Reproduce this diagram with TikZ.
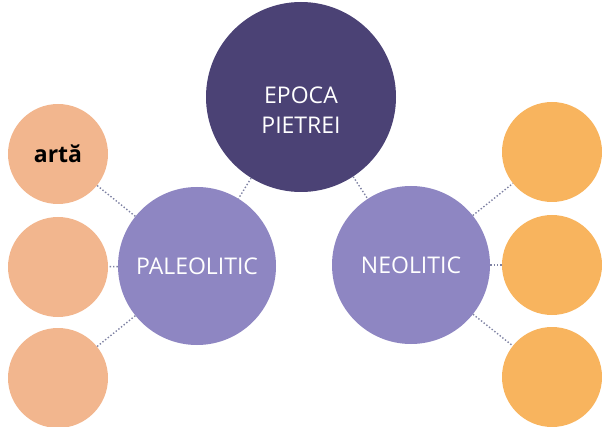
\documentclass[tikz,border=0pt]{standalone}
\usepackage{fontspec}
\setmainfont{Open Sans}
\usetikzlibrary{positioning}

\definecolor{darkviolet}{HTML}{4B4275}
\definecolor{lavender}{HTML}{8E86C2}
\definecolor{peach}{HTML}{F2B68E}
\definecolor{amber}{HTML}{F8B45E}
\definecolor{dotgray}{HTML}{7F82A3}

\begin{document}
\begin{tikzpicture}[
    x=1pt, y=1pt,
    every node/.style={font=\fontsize{23}{32}\selectfont},
    big/.style={circle, fill=darkviolet, text=white, minimum size=190pt,
                inner sep=0pt},
    mid/.style={circle, fill=lavender, text=white, minimum size=158pt,
                inner sep=0pt},
    lf/.style={circle, fill=peach, minimum size=100pt, inner sep=0pt},
    rt/.style={circle, fill=amber, minimum size=100pt, inner sep=0pt},
    e/.style={dotted, line width=1.4pt, dotgray},
  ]
  \useasboundingbox (0,0) rectangle (602,426);
  \node[big] (epoca) at (301, 329)
    {\raisebox{-21pt}[0pt][0pt]{\begin{tabular}{@{}c@{}}EPOCA\\[-2pt]PIETREI\end{tabular}}};
  \node[mid] (paleo) at (197, 160) {PALEOLITIC};
  \node[mid] (neo) at (411, 161) {NEOLITIC};
  \node[lf] (l1) at (58, 272) {\textbf{artă}};
  \node[lf] (l2) at (58, 159) {};
  \node[lf] (l3) at (58, 48) {};
  \node[rt] (r1) at (552, 274) {};
  \node[rt] (r2) at (552, 161) {};
  \node[rt] (r3) at (552, 49) {};
  \draw[e] (epoca) -- (paleo);
  \draw[e] (epoca) -- (neo);
  \draw[e] (paleo) -- (l1);
  \draw[e] (paleo) -- (l2);
  \draw[e] (paleo) -- (l3);
  \draw[e] (neo) -- (r1);
  \draw[e] (neo) -- (r2);
  \draw[e] (neo) -- (r3);
\end{tikzpicture}
\end{document}
